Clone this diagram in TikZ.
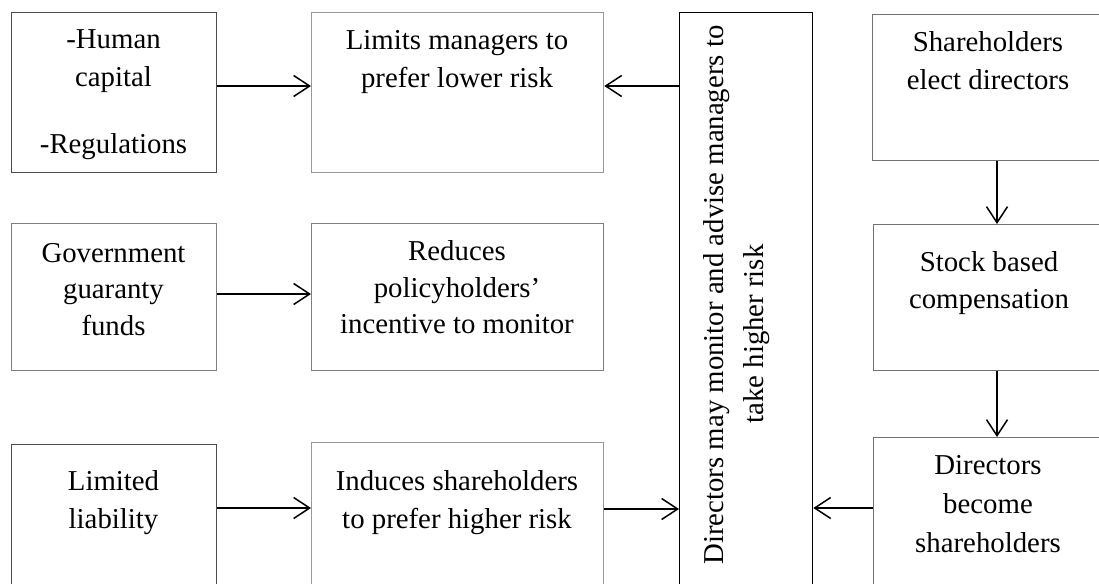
\documentclass[tikz,border=0pt]{standalone}
\usepackage{fontspec}
\setmainfont{Liberation Serif}
\usetikzlibrary{arrows.meta}
\tikzset{
  bx/.style={draw=#1, line width=1.3pt, inner sep=0pt, anchor=north west},
  arr/.style={line width=1.5pt, -{Straight Barb[length=16pt,width=21pt,line width=1.5pt]}},
  lbl/.style={font=\fontsize{28.8}{37.5}\selectfont, anchor=base, inner sep=0pt},
}
\begin{document}
\begin{tikzpicture}[x=1pt,y=-1pt]
\useasboundingbox (0,0) rectangle (1099,583);
\clip (0,0) rectangle (1099,583);
% boxes
\node[bx=black!70, minimum width=205pt, minimum height=160pt] (hc) at (11,12) {};
\node[bx=black!40, minimum width=292pt, minimum height=160pt] (lim) at (311,12) {};
\node[bx=black!50, minimum width=205pt, minimum height=147pt] (gov) at (11,223) {};
\node[bx=black!50, minimum width=292pt, minimum height=147pt] (red) at (311,223) {};
\node[bx=black!70, minimum width=205pt, minimum height=170pt] (ll) at (11,444) {};
\node[bx=black!40, minimum width=292pt, minimum height=172pt] (ind) at (311,442) {};
\node[bx=black, minimum width=133pt, minimum height=600pt] (dir) at (679,12) {};
\node[bx=black!55, minimum width=235pt, minimum height=146pt] (sh) at (872,14) {};
\node[bx=black!55, minimum width=235pt, minimum height=146pt] (st) at (873,224) {};
\node[bx=black!55, minimum width=235pt, minimum height=170pt] (db) at (873,437) {};
% texts
\node[lbl] (hc1) at (113.5,49) {-Human};
\node[lbl] (hc2) at (113.5,87) {capital};
\node[lbl] (hc3) at (113.5,153) {-Regulations};
\node[lbl] (lim1) at (457,50) {Limits managers to};
\node[lbl] (lim2) at (457,87.5) {prefer lower risk};
\node[lbl] (gov1) at (113.5,262) {Government};
\node[lbl] (gov2) at (113.5,298) {guaranty};
\node[lbl] (gov3) at (113.5,335) {funds};
\node[lbl] (red1) at (457,260) {Reduces};
\node[lbl] (red2) at (457,297) {policyholders’};
\node[lbl] (red3) at (457,333) {incentive to monitor};
\node[lbl] (ll1) at (113.5,490) {Limited};
\node[lbl] (ll2) at (113.5,528) {liability};
\node[lbl] (ind1) at (457,490) {Induces shareholders};
\node[lbl] (ind2) at (457,528) {to prefer higher risk};
\node[lbl] (sh1) at (988,52) {Shareholders};
\node[lbl] (sh2) at (988,90) {elect directors};
\node[lbl] (st1) at (989,271) {Stock based};
\node[lbl] (st2) at (989,308) {compensation};
\node[lbl] (db1) at (988,474) {Directors};
\node[lbl] (db2) at (988,513) {become};
\node[lbl] (db3) at (988,552) {shareholders};
\node[lbl, rotate=90] (dir1) at (723,295) {Directors may monitor and advise managers to};
\node[lbl, rotate=90] (dir2) at (763,334) {take higher risk};
% connectors
\draw[arr] (hc.east |- 0,86) -- (lim.west |- 0,86);
\draw[arr] (dir.west |- 0,86) -- (lim.east |- 0,86);
\draw[arr] (gov.east |- 0,294) -- (red.west |- 0,294);
\draw[arr] (ll.east |- 0,508) -- (ind.west |- 0,508);
\draw[arr] (ind.east |- 0,509) -- (dir.west |- 0,509);
\draw[arr] (db.west |- 0,508) -- (dir.east |- 0,508);
\draw[arr] (sh.south -| 997,0) -- (st.north -| 997,0);
\draw[arr] (st.south -| 997,0) -- (db.north -| 997,0);
\end{tikzpicture}
\end{document}
